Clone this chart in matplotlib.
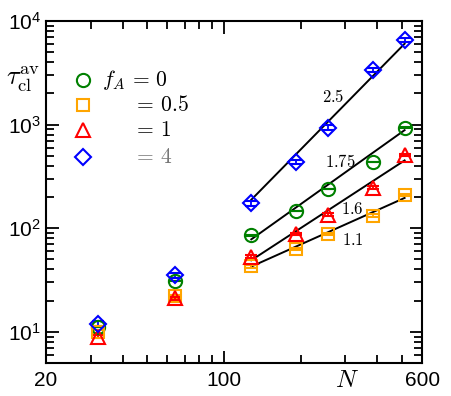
import numpy as np
import matplotlib
matplotlib.use('Agg')
from matplotlib import pyplot as plt
from matplotlib.ticker import FixedLocator, NullFormatter

plt.rcParams['mathtext.fontset'] = 'cm'
plt.rcParams['font.family'] = ['Liberation Sans', 'DejaVu Sans']

# chain length
N = [32, 64, 128, 192, 256, 384, 512]

# average cluster time for each f_A
tau_f0 = [11.2, 31, 85, 147, 240, 434, 935]
tau_f05 = [10, 22, 43, 63, 88, 132, 209]
tau_f1 = [9.0, 21, 53, 88, 135, 245, 510]
tau_f4 = [12.0, 35, 174, 434, 935, 3370, 6560]

# error bars (small, mostly hidden inside the markers)
err_f0 = [0.05, 0.15, 0.4, 0.7, 1.2, 2.2, 4.7]
err_f05 = [0.3, 0.7, 1.3, 1.9, 2.6, 4.0, 6.3]
err_f1 = [0.3, 0.6, 1.6, 2.6, 4.0, 7.4, 15]
err_f4 = [0.6, 1.7, 8.7, 22, 47, 170, 330]

# power-law fits N^x, drawn from N=128 to N=512
fit_N = [128, 512]
fit_exp = [2.5, 1.75, 1.6, 1.1]
fit_amp = [188, 78, 49, 42.6]
fit_lab = ['2.5', '1.75', '1.6', '1.1']

labels = [r'$f_A\,=\,0$', r'$=\,0.5$', r'$=\,1$', r'$=\,4$']

fig = plt.figure(figsize=(4.51, 3.96), dpi=100)
ax = fig.add_axes([0.102, 0.0833, 0.834, 0.864])

Nf = np.array(fit_N, dtype=float)
for a, e in zip(fit_amp, fit_exp):
    ax.plot(Nf, a * (Nf / fit_N[0]) ** e, 'k-', lw=1.4, zorder=2)

series = [(tau_f0, err_f0, 'o', 'green'),
          (tau_f05, err_f05, 's', 'orange'),
          (tau_f1, err_f1, '^', 'red'),
          (tau_f4, err_f4, 'D', 'blue')]
msz = {'o': 9.5, 's': 8.5, '^': 10, 'D': 8}
for y, e, m, c in series:
    ax.errorbar(N, y, yerr=e, fmt=m, mfc='none', mec=c, ecolor=c, ms=msz[m],
                mew=1.5, elinewidth=1.3, capsize=4, capthick=1.3, zorder=3)

ax.set_xscale('log')
ax.set_yscale('log')
ax.set_xlim(20, 600)
ax.set_ylim(5, 1e4)

ax.xaxis.set_major_locator(FixedLocator([20, 100, 600]))
ax.xaxis.set_minor_locator(FixedLocator([30, 40, 50, 60, 70, 80, 90, 200, 300, 400, 500]))
ax.set_xticklabels(['20', '100', '600'])
ax.xaxis.set_minor_formatter(NullFormatter())

ax.yaxis.set_major_locator(FixedLocator([10, 100, 1000, 10000]))
ax.yaxis.set_minor_locator(FixedLocator([k * 10 ** d for d in range(0, 4) for k in range(2, 10)]))
ax.set_yticklabels([r'$\mathregular{10^1}$', r'$\mathregular{10^2}$',
                    r'$\mathregular{10^3}$', r'$\mathregular{10^4}$'])
ax.yaxis.set_minor_formatter(NullFormatter())

ax.tick_params(which='both', direction='in', top=True, right=True, width=1.3, labelsize=15)
ax.tick_params(which='major', length=9)
ax.tick_params(which='minor', length=6)
ax.tick_params(axis='x', pad=6)
for s in ax.spines.values():
    s.set_linewidth(1.5)

# legend drawn by hand
rows = [0.827, 0.754, 0.681, 0.602]
for (y, e, m, c), ry, lab in zip(series, rows, labels):
    ax.plot([0.098], [ry], m, mfc='none', mec=c, ms=msz[m], mew=1.5,
            transform=ax.transAxes, clip_on=False)
    tx = 0.149 if lab.startswith('$f') else 0.231
    col = '#777777' if lab == r'$=\,4$' else 'black'
    ax.text(tx, ry, lab, transform=ax.transAxes, fontsize=15.5, va='center', color=col)

# exponent labels
lab_pos = [(0.763, 0.778), (0.782, 0.588), (0.814, 0.450), (0.816, 0.360)]
for t, (px, py) in zip(fit_lab, lab_pos):
    ax.text(px, py, '$' + t + '$', transform=ax.transAxes, fontsize=12,
            ha='center', va='center')

fig.text(0.05, 0.80, r'$\tau_{\rm cl}^{\rm av}$', fontsize=19, ha='center', va='center')
fig.text(0.769, 0.04, r'$N$', fontsize=18, ha='center', va='center')

fig.savefig('out.png', dpi=100)
